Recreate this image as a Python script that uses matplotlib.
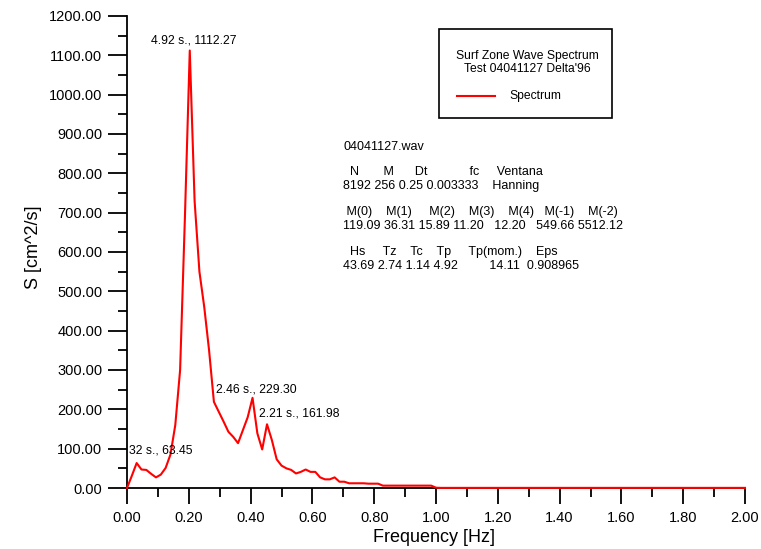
import numpy as np
import matplotlib
matplotlib.use("Agg")
import matplotlib.pyplot as plt
from matplotlib.ticker import MultipleLocator, FormatStrFormatter
from matplotlib.patches import Rectangle
from matplotlib.lines import Line2D

plt.rcParams['font.family'] = ['Liberation Sans', 'DejaVu Sans']

# spectrum, one value per frequency bin (df = 4 Hz / 256 = 0.015625 Hz)
df = 0.015625
spectrum = [0, 31, 63.45, 47, 46, 36, 27, 34, 51, 85,
            160, 300, 690, 1112.27, 730, 550, 460, 350, 219, 194,
            169, 143, 130, 114, 147, 180, 229.30, 139, 98, 161.98,
            122, 73, 57, 50, 46, 37, 41, 47, 41, 41,
            27, 22, 22, 27, 16, 16, 12, 12, 12, 12,
            11, 11, 11, 6, 6, 6, 6, 6, 6, 6,
            6, 6, 6, 6, 0.8, 0.3, 0.3, 0.3, 0.3, 0.3,
            0.3, 0.3, 0.3, 0.3, 0.3, 0.3, 0.3, 0.3, 0.3, 0.3,
            0.3, 0.3, 0.3, 0.3, 0.3, 0.3, 0.3, 0.3, 0.3, 0.3,
            0.3, 0.3, 0.3, 0.3, 0.3, 0.3, 0.3, 0.3, 0.3, 0.3,
            0.3, 0.3, 0.3, 0.3, 0.3, 0.3, 0.3, 0.3, 0.3, 0.3,
            0.3, 0.3, 0.3, 0.3, 0.3, 0.3, 0.3, 0.3, 0.3, 0.3,
            0.3, 0.3, 0.3, 0.3, 0.3, 0.3, 0.3, 0.3, 0.3]
freq = np.arange(len(spectrum)) * df

# labelled peaks: (bin, text, offset in px (left edge, centre))
peaks = [(13, "4.92 s., 1112.27", (-39, 10)),
         (26, "2.46 s., 229.30", (-37, 8)),
         (29, "2.21 s., 161.98", (-8, 11)),
         (2, "32 s., 63.45", (-8, 13))]

info_lines = ["04041127.wav",
              "  N       M      Dt            fc     Ventana",
              "8192 256 0.25 0.003333    Hanning",
              " M(0)    M(1)     M(2)    M(3)    M(4)   M(-1)    M(-2)",
              "119.09 36.31 15.89 11.20   12.20   549.66 5512.12",
              "  Hs     Tz    Tc    Tp     Tp(mom.)    Eps",
              "43.69 2.74 1.14 4.92         14.11  0.908965"]
info_y = [147, 172, 186, 212, 226, 252, 266]

title_lines = ["Surf Zone Wave Spectrum", "Test 04041127 Delta'96"]

W, H = 761, 549
fig = plt.figure(figsize=(W/100, H/100), dpi=100)
ax = fig.add_axes([127/W, 1-488/H, (745-127)/W, (488-16)/H])

line, = ax.plot(freq, spectrum, color='red', lw=1.5, zorder=3, clip_on=False,
                label="Spectrum")

ax.set_xlim(0, 2)
ax.set_ylim(0, 1200)
for s in ['top', 'right']:
    ax.spines[s].set_visible(False)
for s in ['left', 'bottom']:
    ax.spines[s].set_linewidth(1.3)
ax.xaxis.set_major_locator(MultipleLocator(0.2))
ax.xaxis.set_minor_locator(MultipleLocator(0.1))
ax.yaxis.set_major_locator(MultipleLocator(100))
ax.yaxis.set_minor_locator(MultipleLocator(50))
ax.xaxis.set_major_formatter(FormatStrFormatter('%.2f'))
ax.yaxis.set_major_formatter(FormatStrFormatter('%.2f'))
ax.tick_params(axis='x', which='major', length=11.5, width=1.3, labelsize=10.5, pad=5)
ax.tick_params(axis='y', which='major', length=13.5, width=1.3, labelsize=10.5, pad=4.3)
ax.tick_params(axis='x', which='minor', length=6.2, width=1.3)
ax.tick_params(axis='y', which='minor', length=6.5, width=1.3)
ax.set_xlabel("Frequency [Hz]", fontsize=13)
ax.set_ylabel("S [cm^2/s]", fontsize=13)
ax.xaxis.set_label_coords(0.497, -(538-488)/472)
ax.yaxis.set_label_coords(-(127-33)/618, (488-247)/472)
ax.xaxis.label.set_va('center')
ax.yaxis.label.set_va('center')

for k, txt, (dx, dy) in peaks:
    ax.annotate(txt, xy=(freq[k], spectrum[k]), xytext=(dx*0.72, dy*0.72),
                textcoords='offset points', ha='left', va='center', fontsize=8.8)

for y, txt in zip(info_y, info_lines):
    fig.text(343/W, 1-y/H, txt, ha='left', va='center', fontsize=9)

# legend box
fig.patches.append(Rectangle((439/W, 1-118/H), (612-439)/W, (118-29)/H,
                             transform=fig.transFigure, fill=False,
                             edgecolor='black', lw=1.2))
fig.text(527/W, 1-56/H, title_lines[0], ha='center', va='center', fontsize=8.7)
fig.text(527/W, 1-68.5/H, title_lines[1], ha='center', va='center', fontsize=8.7)
fig.lines.append(Line2D([457/W, 495/W], [1-96/H, 1-96/H], transform=fig.transFigure,
                        color='red', lw=1.5))
fig.text(509/W, 1-96/H, line.get_label(), ha='left', va='center', fontsize=8.7)

fig.savefig("out.png", dpi=100)
